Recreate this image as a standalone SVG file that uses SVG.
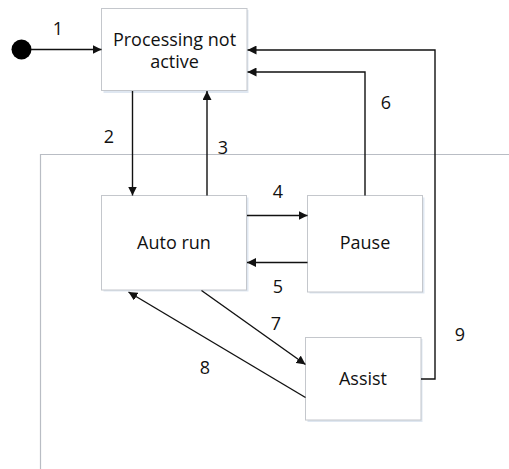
<svg xmlns="http://www.w3.org/2000/svg" width="509" height="469" viewBox="0 0 509 469">
  <style>
    .box { fill: #ffffff; stroke: #c4c7cc; stroke-width: 1; }
    .shadow { fill: #dfe7f1; }
    .label { font-family: "Open Sans", "Noto Sans", "Liberation Sans", sans-serif; font-size: 18px; fill: #111111; text-anchor: middle; }
    .edge { fill: none; stroke: #111111; stroke-width: 1.4; }
    .frame { fill: none; stroke: #b9bdc4; stroke-width: 1.2; }
  </style>
  <defs>
    <marker id="arrow" viewBox="0 0 10 10" refX="10" refY="5" markerWidth="9" markerHeight="9" markerUnits="userSpaceOnUse" orient="auto">
      <path d="M0,0 L10,5 L0,10 Z" fill="#111111"/>
    </marker>
  </defs>

  <!-- frame of the active region -->
  <path class="frame" d="M509,154.5 H40.5 V469"/>

  <!-- initial pseudo-state -->
  <g id="start">
    <circle cx="21.5" cy="49.5" r="10" fill="#000000"/>
  </g>

  <g id="processing-not-active">
    <rect class="shadow" x="103.5" y="10" width="145" height="83"/>
    <rect class="box" x="101.5" y="8.5" width="145.5" height="82"/>
    <text class="label" x="174.5" y="46">Processing not</text>
    <text class="label" x="174.5" y="68">active</text>
  </g>

  <g id="auto-run">
    <rect class="shadow" x="103.5" y="197.5" width="145" height="94"/>
    <rect class="box" x="101.5" y="195.5" width="145" height="94.5"/>
    <text class="label" x="174" y="249">Auto run</text>
  </g>

  <g id="pause">
    <rect class="shadow" x="309.5" y="197.5" width="115" height="96"/>
    <rect class="box" x="307.5" y="195.5" width="115" height="96.5"/>
    <text class="label" x="365" y="249">Pause</text>
  </g>

  <g id="assist">
    <rect class="shadow" x="307.5" y="339" width="115" height="83"/>
    <rect class="box" x="305.5" y="337.5" width="115.5" height="82.5"/>
    <text class="label" x="363" y="385">Assist</text>
  </g>

  <g id="connectors">
    <line class="edge" x1="31" y1="49.5" x2="101.5" y2="49.5" marker-end="url(#arrow)"/>
    <line class="edge" x1="132.5" y1="91" x2="132.5" y2="195.5" marker-end="url(#arrow)"/>
    <line class="edge" x1="207" y1="195.5" x2="207" y2="91" marker-end="url(#arrow)"/>
    <line class="edge" x1="247" y1="215.5" x2="307.5" y2="215.5" marker-end="url(#arrow)"/>
    <line class="edge" x1="307.5" y1="262.5" x2="247" y2="262.5" marker-end="url(#arrow)"/>
    <polyline class="edge" points="365,195.5 365,72 247.5,72" marker-end="url(#arrow)"/>
    <line class="edge" x1="201.5" y1="290.5" x2="305.5" y2="364.5" marker-end="url(#arrow)"/>
    <line class="edge" x1="305.5" y1="397.5" x2="128.5" y2="292" marker-end="url(#arrow)"/>
    <polyline class="edge" points="421,379 435,379 435,50 247.5,50" marker-end="url(#arrow)"/>
  </g>

  <g id="edge-labels">
    <text class="label" x="58" y="35">1</text>
    <text class="label" x="109" y="143">2</text>
    <text class="label" x="223" y="154">3</text>
    <text class="label" x="278" y="198">4</text>
    <text class="label" x="278" y="293">5</text>
    <text class="label" x="386" y="109">6</text>
    <text class="label" x="276" y="330">7</text>
    <text class="label" x="205" y="374">8</text>
    <text class="label" x="460" y="341">9</text>
  </g>
</svg>
